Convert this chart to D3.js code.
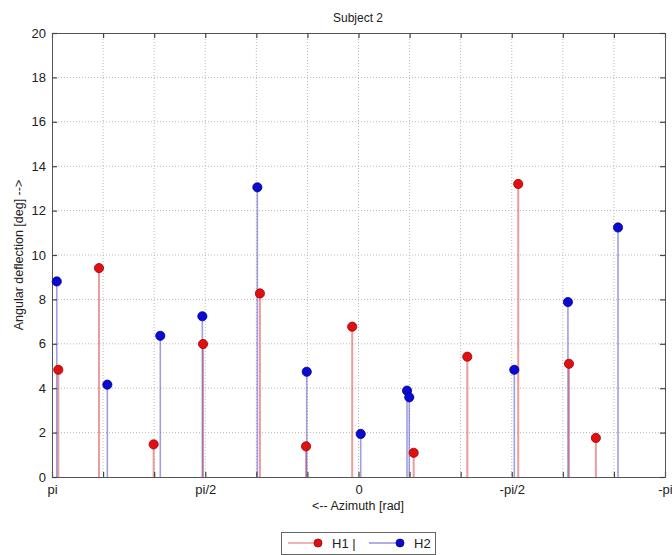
<!DOCTYPE html>
<html>
<head>
<meta charset="utf-8">
<script src="https://cdn.jsdelivr.net/npm/d3@7"></script>
<style>
  html, body { margin: 0; padding: 0; background: #fff; }
  svg text { font-family: "Liberation Sans", Arial, sans-serif; fill: #222; }
</style>
</head>
<body>
<svg id="chart" width="672" height="555"></svg>
<script>
// Azimuth in degrees (converted to radians for the scale), deflection in degrees
const h1Azimuth = [176.3, 152.4, 120.3, 91.3, 57.9, 30.8, 3.7, -32.4, -63.9, -93.8, -123.6, -139.4];
const h1Deflection = [4.83, 9.41, 1.47, 5.99, 8.27, 1.38, 6.77, 1.09, 5.42, 13.2, 5.10, 1.76];
const h2Azimuth = [177.2, 147.5, 116.4, 91.7, 59.4, 30.4, -1.3, -28.5, -29.8, -91.5, -123.0, -152.4];
const h2Deflection = [8.81, 4.16, 6.36, 7.24, 13.05, 4.74, 1.94, 3.89, 3.59, 4.83, 7.88, 11.24];
const yTicks = [0, 2, 4, 6, 8, 10, 12, 14, 16, 18, 20];
const xTickLabels = { "6": "pi", "3": "pi/2", "0": "0", "-3": "-pi/2", "-6": "-pi" };
const xTickSteps = d3.range(6, -7, -1); // multiples of pi/6

const svg = d3.select("#chart");
const m = { left: 52, right: 665, top: 33, bottom: 477 };

const x = d3.scaleLinear().domain([Math.PI, -Math.PI]).range([m.left, m.right]);
const y = d3.scaleLinear().domain([0, 20]).range([m.bottom, m.top]);
const rad = d => d * Math.PI / 180;
const xTickVals = xTickSteps.map(k => k * Math.PI / 6);

// Dotted grid
const grid = svg.append("g");
grid.selectAll("line.gx").data(xTickVals.slice(1, -1)).join("line")
  .attr("x1", d => x(d)).attr("x2", d => x(d))
  .attr("y1", m.top).attr("y2", m.bottom)
  .attr("stroke", "#b8b8b8").attr("stroke-width", 1).attr("stroke-dasharray", "1,2");
grid.selectAll("line.gy").data(yTicks.slice(1, -1)).join("line")
  .attr("x1", m.left).attr("x2", m.right)
  .attr("y1", d => y(d)).attr("y2", d => y(d))
  .attr("stroke", "#b8b8b8").attr("stroke-width", 1).attr("stroke-dasharray", "1,2");

// Stems
function stems(az, val, color, width) {
  const data = az.map((a, i) => ({ a: rad(a), v: val[i] }));
  svg.append("g").selectAll("line").data(data).join("line")
    .attr("x1", d => x(d.a)).attr("x2", d => x(d.a))
    .attr("y1", y(0)).attr("y2", d => y(d.v))
    .attr("stroke", color).attr("stroke-width", width);
  return data;
}
const d1 = stems(h1Azimuth, h1Deflection, "rgba(222,90,90,0.6)", 2);
const d2 = stems(h2Azimuth, h2Deflection, "rgba(80,80,200,0.55)", 1.6);

// Axes (ticks inward, box around the plot)
const axB = d3.axisBottom(x).tickValues(xTickVals).tickSize(-5).tickPadding(8)
  .tickFormat((d, i) => xTickLabels[String(xTickSteps[i])] || "");
const axT = d3.axisTop(x).tickValues(xTickVals).tickSize(-5).tickFormat("");
const axL = d3.axisLeft(y).tickValues(yTicks).tickSize(-5).tickPadding(6).tickFormat(d3.format("d"));
const axR = d3.axisRight(y).tickValues(yTicks).tickSize(-5).tickFormat("");

function styleAxis(g) {
  g.select(".domain").attr("stroke", "#555").attr("stroke-width", 1);
  g.selectAll(".tick line").attr("stroke", "#444").attr("stroke-width", 1.2);
  g.selectAll("text").attr("font-size", 13).attr("fill", "#222")
    .attr("font-family", "'Liberation Sans', Arial, sans-serif");
}
svg.append("g").attr("transform", `translate(0,${m.bottom})`).call(axB).call(styleAxis);
svg.append("g").attr("transform", `translate(0,${m.top})`).call(axT).call(styleAxis);
svg.append("g").attr("transform", `translate(${m.left},0)`).call(axL).call(styleAxis);
svg.append("g").attr("transform", `translate(${m.right},0)`).call(axR).call(styleAxis);

// Markers
function markers(data, fill, stroke) {
  svg.append("g").selectAll("circle").data(data).join("circle")
    .attr("cx", d => x(d.a)).attr("cy", d => y(d.v)).attr("r", 4.6)
    .attr("fill", fill).attr("stroke", stroke).attr("stroke-width", 0.8);
}
markers(d1, "#e01010", "#a00000");
markers(d2, "#0a0ad0", "#000090");

// Titles
svg.append("text").attr("x", 358).attr("y", 22).attr("text-anchor", "middle")
  .attr("font-size", 12).text("Subject 2");
svg.append("text").attr("x", 358).attr("y", 510).attr("text-anchor", "middle")
  .attr("font-size", 12.5).text("<--  Azimuth [rad]");
svg.append("text").attr("transform", "translate(23,255) rotate(-90)")
  .attr("text-anchor", "middle").attr("font-size", 12.5).text("Angular deflection [deg]  -->");

// Legend
const lg = svg.append("g");
lg.append("rect").attr("x", 281.5).attr("y", 532.5).attr("width", 154).attr("height", 22)
  .attr("fill", "#fff").attr("stroke", "#666").attr("stroke-width", 1);
lg.append("line").attr("x1", 288).attr("x2", 318).attr("y1", 543).attr("y2", 543)
  .attr("stroke", "rgba(222,90,90,0.7)").attr("stroke-width", 1.3);
lg.append("circle").attr("cx", 318).attr("cy", 543).attr("r", 4)
  .attr("fill", "#e01010").attr("stroke", "#a00000").attr("stroke-width", 0.8);
lg.append("text").attr("x", 332).attr("y", 548).attr("font-size", 13).text("H1 |");
lg.append("line").attr("x1", 369).attr("x2", 400).attr("y1", 543).attr("y2", 543)
  .attr("stroke", "rgba(80,80,200,0.7)").attr("stroke-width", 1.3);
lg.append("circle").attr("cx", 400).attr("cy", 543).attr("r", 4)
  .attr("fill", "#0a0ad0").attr("stroke", "#000090").attr("stroke-width", 0.8);
lg.append("text").attr("x", 414).attr("y", 548).attr("font-size", 13).text("H2");
</script>
</body>
</html>
